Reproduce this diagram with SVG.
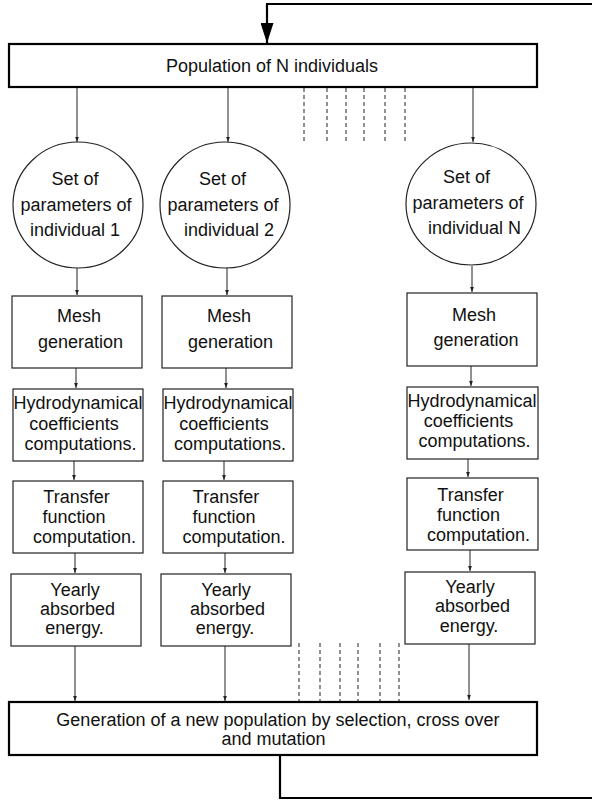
<svg xmlns="http://www.w3.org/2000/svg" width="592" height="800" viewBox="0 0 592 800">
<style>
  text { font-family: "Liberation Sans", Arial, sans-serif; font-size: 18px; fill: #111; text-anchor: middle; }
  .box { fill: #fff; stroke: #222; stroke-width: 1.2; }
  .big { fill: #fff; stroke: #000; stroke-width: 2.2; }
  .ln { fill: none; stroke: #222; stroke-width: 1; }
  .dash { fill: none; stroke: #222; stroke-width: 1; stroke-dasharray: 4 3; }
  .fb { fill: none; stroke: #000; stroke-width: 2.2; }
</style>
<defs>
  <marker id="a" markerUnits="userSpaceOnUse" viewBox="0 0 8 6" refX="8" refY="3" markerWidth="5" markerHeight="4" orient="auto">
    <path d="M0,0 L8,3 L0,6 z" fill="#222"/>
  </marker>
  <marker id="A" markerUnits="userSpaceOnUse" viewBox="0 0 20 13" refX="20" refY="6.5" markerWidth="20" markerHeight="13" orient="auto">
    <path d="M0,0 L20,6.5 L0,13 z" fill="#000"/>
  </marker>
</defs>

<g id="connectors">
  <path class="fb" d="M280,755 V798 H596 V4 H267 V43" marker-end="url(#A)"/>
  <line class="ln" x1="77" y1="88" x2="77" y2="142" marker-end="url(#a)"/>
  <line class="ln" x1="228" y1="88" x2="228" y2="142" marker-end="url(#a)"/>
  <line class="ln" x1="473" y1="88" x2="473" y2="142" marker-end="url(#a)"/>
  <g class="dash">
    <line x1="304" y1="88" x2="304" y2="143"/>
    <line x1="327" y1="88" x2="327" y2="143"/>
    <line x1="346" y1="88" x2="346" y2="143"/>
    <line x1="364" y1="88" x2="364" y2="143"/>
    <line x1="385" y1="88" x2="385" y2="143"/>
    <line x1="405" y1="88" x2="405" y2="143"/>
    <line x1="299" y1="643" x2="299" y2="701"/>
    <line x1="320" y1="643" x2="320" y2="701"/>
    <line x1="340" y1="643" x2="340" y2="701"/>
    <line x1="358" y1="643" x2="358" y2="701"/>
    <line x1="380" y1="643" x2="380" y2="701"/>
    <line x1="399" y1="643" x2="399" y2="701"/>
  </g>
  <line class="ln" x1="77" y1="268" x2="77" y2="295" marker-end="url(#a)"/>
  <line class="ln" x1="227" y1="268" x2="227" y2="295" marker-end="url(#a)"/>
  <line class="ln" x1="472" y1="266" x2="472" y2="292" marker-end="url(#a)"/>
  <line class="ln" x1="76" y1="368" x2="76" y2="388" marker-end="url(#a)"/>
  <line class="ln" x1="226" y1="368" x2="226" y2="388" marker-end="url(#a)"/>
  <line class="ln" x1="471" y1="366" x2="471" y2="386" marker-end="url(#a)"/>
  <line class="ln" x1="74" y1="461" x2="74" y2="480" marker-end="url(#a)"/>
  <line class="ln" x1="224" y1="461" x2="224" y2="480" marker-end="url(#a)"/>
  <line class="ln" x1="468" y1="459" x2="468" y2="477" marker-end="url(#a)"/>
  <line class="ln" x1="75" y1="553" x2="75" y2="573" marker-end="url(#a)"/>
  <line class="ln" x1="225" y1="553" x2="225" y2="573" marker-end="url(#a)"/>
  <line class="ln" x1="470" y1="550" x2="470" y2="571" marker-end="url(#a)"/>
  <line class="ln" x1="75" y1="646" x2="75" y2="701" marker-end="url(#a)"/>
  <line class="ln" x1="225" y1="646" x2="225" y2="701" marker-end="url(#a)"/>
  <line class="ln" x1="469" y1="644" x2="469" y2="700" marker-end="url(#a)"/>
</g>

<g id="population">
  <rect class="big" x="9" y="44" width="528" height="43"/>
  <text x="272" y="72">Population of N individuals</text>
</g>

<g id="params1">
  <ellipse class="box" cx="78" cy="205" rx="65" ry="63"/>
  <text x="75" y="185">Set of</text>
  <text x="76" y="211">parameters of</text>
  <text x="75" y="236">individual 1</text>
</g>
<g id="params2">
  <ellipse class="box" cx="225" cy="205" rx="65" ry="63"/>
  <text x="222.5" y="185">Set of</text>
  <text x="223" y="211">parameters of</text>
  <text x="229" y="236">individual 2</text>
</g>
<g id="paramsN">
  <ellipse class="box" cx="471" cy="204" rx="65" ry="61"/>
  <text x="466.5" y="183">Set of</text>
  <text x="468" y="209">parameters of</text>
  <text x="474.5" y="234">individual N</text>
</g>

<g id="mesh1">
  <rect class="box" x="12" y="296" width="130" height="72"/>
  <text x="79" y="322">Mesh</text>
  <text x="80.5" y="348">generation</text>
</g>
<g id="mesh2">
  <rect class="box" x="162" y="296" width="130" height="72"/>
  <text x="229" y="322">Mesh</text>
  <text x="230.5" y="348">generation</text>
</g>
<g id="meshN">
  <rect class="box" x="407" y="293" width="130" height="73"/>
  <text x="474" y="321">Mesh</text>
  <text x="476" y="346">generation</text>
</g>

<g id="hydro1">
  <rect class="box" x="13" y="389" width="130" height="72"/>
  <text x="78" y="409">Hydrodynamical</text>
  <text x="74" y="430">coefficients</text>
  <text x="80.5" y="450">computations.</text>
</g>
<g id="hydro2">
  <rect class="box" x="163" y="389" width="130" height="72"/>
  <text x="228" y="409">Hydrodynamical</text>
  <text x="224" y="430">coefficients</text>
  <text x="230" y="450">computations.</text>
</g>
<g id="hydroN">
  <rect class="box" x="407" y="387" width="131" height="72"/>
  <text x="472" y="407">Hydrodynamical</text>
  <text x="468.5" y="427">coefficients</text>
  <text x="474.5" y="447">computations.</text>
</g>

<g id="transfer1">
  <rect class="box" x="13" y="481" width="130" height="72"/>
  <text x="76.5" y="503">Transfer</text>
  <text x="74" y="523">function</text>
  <text x="84.5" y="543">computation.</text>
</g>
<g id="transfer2">
  <rect class="box" x="163" y="481" width="130" height="72"/>
  <text x="226" y="503">Transfer</text>
  <text x="224" y="523">function</text>
  <text x="234" y="543">computation.</text>
</g>
<g id="transferN">
  <rect class="box" x="407" y="478" width="131" height="72"/>
  <text x="470.5" y="501">Transfer</text>
  <text x="468.5" y="521">function</text>
  <text x="478.5" y="541">computation.</text>
</g>

<g id="yearly1">
  <rect class="box" x="11" y="574" width="130" height="72"/>
  <text x="75" y="596">Yearly</text>
  <text x="77.5" y="615">absorbed</text>
  <text x="74.5" y="634">energy.</text>
</g>
<g id="yearly2">
  <rect class="box" x="161" y="574" width="130" height="72"/>
  <text x="226" y="596">Yearly</text>
  <text x="227.5" y="615">absorbed</text>
  <text x="225" y="634">energy.</text>
</g>
<g id="yearlyN">
  <rect class="box" x="405" y="572" width="130" height="72"/>
  <text x="470" y="593">Yearly</text>
  <text x="472.5" y="612">absorbed</text>
  <text x="469" y="632">energy.</text>
</g>

<g id="generation">
  <rect class="big" x="9" y="702" width="528" height="53"/>
  <text x="278" y="726">Generation of a new population by selection, cross over</text>
  <text x="273.5" y="745">and mutation</text>
</g>
</svg>
